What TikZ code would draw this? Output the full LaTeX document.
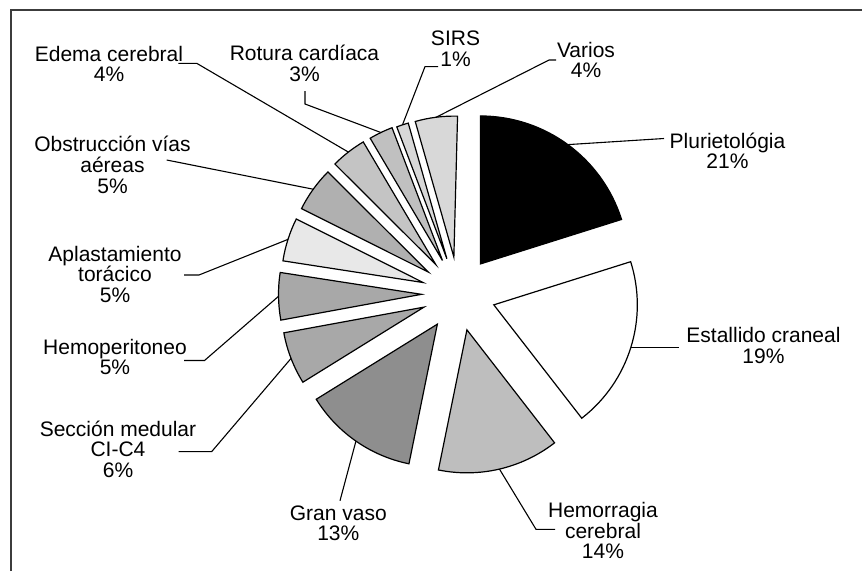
\documentclass[tikz,border=0pt]{standalone}
\usepackage{fontspec}
\setmainfont{Liberation Sans}
\usetikzlibrary{calc}
\definecolor{framegray}{HTML}{3C3C3C}
\definecolor{cPlur}{HTML}{000000}
\definecolor{cEst}{HTML}{FFFFFF}
\definecolor{cHem}{HTML}{BEBEBE}
\definecolor{cGran}{HTML}{8E8E8E}
\definecolor{cSecc}{HTML}{A8A8A8}
\definecolor{cHemop}{HTML}{A8A8A8}
\definecolor{cAplast}{HTML}{E8E8E8}
\definecolor{cObstr}{HTML}{B0B0B0}
\definecolor{cEdema}{HTML}{C4C4C4}
\definecolor{cRotura}{HTML}{C0C0C0}
\definecolor{cSIRS}{HTML}{D8D8D8}
\definecolor{cVarios}{HTML}{D8D8D8}
\newcommand\lblfont{\fontsize{21}{20.7}\selectfont\lineskiplimit=-50pt\relax}
\newcommand\lstrut{\rule{0pt}{21pt}}
\newcommand\pieslice[5]{%
  \pgfmathsetmacro\pmidang{(#2+#3)/2}%
  \coordinate (t#1) at ($(C)+(\pmidang:37pt)$);
  \draw[slice, fill=#5] (t#1) -- ++(#2:#4pt) arc[start angle=#2, end angle=#3, radius=#4pt] -- cycle;
  \coordinate (m#1) at ($(t#1)+(\pmidang:#4pt)$);
}
\begin{document}
\begin{tikzpicture}[x=1pt,y=1pt,
  slice/.style={draw=black, line width=1.2pt, line join=miter},
  leader/.style={draw=black, line width=1.1pt},
  lbl/.style={font=\lblfont, align=center, inner sep=0pt, anchor=north}]
\useasboundingbox (0,0) rectangle (862,-571);
\fill[white] (0,0) rectangle (862,-571);
\draw[framegray, line width=2pt] (11,-571) -- (11,-10) -- (862,-10);
\coordinate (C) at (458.5,-293.8);
% slices
\pieslice{Plur}{90}{17.5}{148}{cPlur}
\pieslice{Est}{17.5}{-52.2}{143.5}{cEst}
\pieslice{Hem}{-52.2}{-101.5}{143}{cHem}
\pieslice{Gran}{258.5}{211.8}{142.5}{cGran}
\pieslice{Secc}{211.8}{190.4}{142.5}{cSecc}
\pieslice{Hemop}{190.4}{171.2}{143}{cHemop}
\pieslice{Aplast}{171.2}{153.4}{142}{cAplast}
\pieslice{Obstr}{153.4}{135.1}{142}{cObstr}
\pieslice{Edema}{135.1}{120.6}{142.5}{cEdema}
\pieslice{Rotura}{120.6}{110.8}{142}{cRotura}
\pieslice{SIRS}{110.8}{105.9}{141}{cSIRS}
\pieslice{Varios}{105.9}{88.5}{141}{cVarios}
% labels
\node[lbl] (lEdema) at (109,-40) {\lstrut Edema cerebral\\4\%};
\node[lbl] (lRotura) at (304.5,-39.5) {\lstrut Rotura cardíaca\\3\%};
\node[lbl] (lSIRS) at (455.5,-24.5) {\lstrut SIRS\\1\%};
\node[lbl] (lVarios) at (586,-36) {\lstrut Varios\\4\%};
\node[lbl] (lPlur) at (727.5,-127) {\lstrut Plurietológia\\21\%};
\node[lbl] (lEst) at (763.5,-321.5) {\lstrut Estallido craneal\\19\%};
\node[lbl] (lHem) at (603,-496.3) {\lstrut Hemorragia\\cerebral\\14\%};
\node[lbl] (lGran) at (338.3,-499) {\lstrut Gran vaso\\13\%};
\node[lbl] (lSecc) at (118,-415) {\lstrut Sección medular\\CI-C4\\6\%};
\node[lbl] (lHemop) at (115,-333) {\lstrut Hemoperitoneo\\5\%};
\node[lbl] (lAplast) at (115,-240) {\lstrut Aplastamiento\\torácico\\5\%};
\node[lbl] (lObstr) at (112.5,-130.7) {\lstrut Obstrucción vías\\aéreas\\5\%};
% leader bends and ends
\coordinate (kEdema) at (196.7,-63.3);  \coordinate (eEdema) at (178.3,-63.3);
\coordinate (kRotura) at (305,-104);    \coordinate (eRotura) at (305,-91);
\coordinate (kSIRS) at (425,-66.6);     \coordinate (eSIRS) at (438,-66.6);
\coordinate (kVarios) at (549,-60);     \coordinate (eVarios) at (556,-60);
\coordinate (ePlur) at (664,-138.5);
\coordinate (kHem) at (536,-529.3);     \coordinate (eHem) at (555,-529.3);
\coordinate (eGran) at (340,-500.7);
\coordinate (kSecc) at (211.7,-451.6);  \coordinate (eSecc) at (178.7,-451.6);
\coordinate (kHemop) at (204.5,-360.5); \coordinate (eHemop) at (184,-360.5);
\coordinate (kAplast) at (199,-275);    \coordinate (eAplast) at (184,-275);
\coordinate (eObstr) at (166.7,-160);
% leaders
\draw[leader] (mEdema) -- (kEdema) -- (eEdema);
\draw[leader] (mRotura) -- (kRotura) -- (eRotura);
\draw[leader] (mSIRS) -- (kSIRS) -- (eSIRS);
\draw[leader] (mVarios) -- (kVarios) -- (eVarios);
\draw[leader] (mPlur) -- (ePlur);
\draw[leader] (mEst) -- (mEst -| 679,0);
\draw[leader] (mHem) -- (kHem) -- (eHem);
\draw[leader] (mGran) -- (eGran);
\draw[leader] (mSecc) -- (kSecc) -- (eSecc);
\draw[leader] (mHemop) -- (kHemop) -- (eHemop);
\draw[leader] (mAplast) -- (kAplast) -- (eAplast);
\draw[leader] (mObstr) -- (eObstr);
\end{tikzpicture}
\end{document}
